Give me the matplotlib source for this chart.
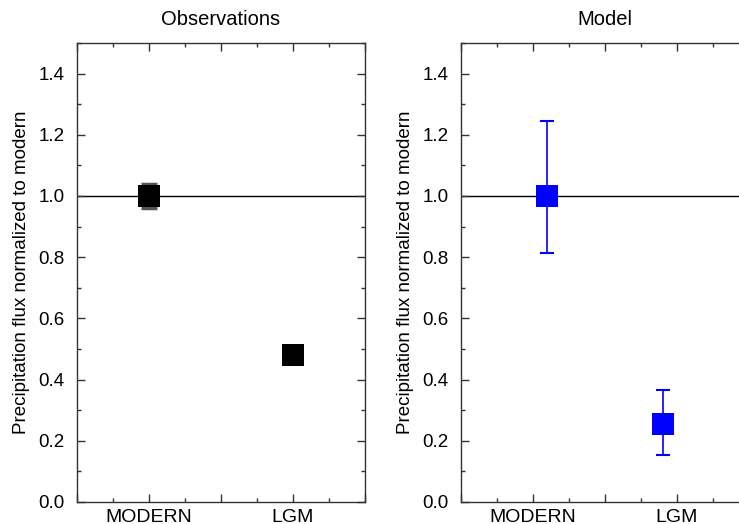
import matplotlib
matplotlib.use("Agg")
import matplotlib.pyplot as plt
from matplotlib.ticker import MultipleLocator, FormatStrFormatter
import numpy as np

plt.rcParams['font.family'] = ['Liberation Sans', 'DejaVu Sans']

categories = ["MODERN", "LGM"]
category_ticks = [1, 3]

# Observations
obs_x = [1.0, 3.0]
obs_val = [1.0, 0.48]
obs_low = [0.96, 0.48]
obs_high = [1.04, 0.48]

# Model
mod_x = [1.2, 2.8]
mod_val = [1.0, 0.255]
mod_low = [0.815, 0.154]
mod_high = [1.245, 0.366]

ylabel = "Precipitation flux normalized to modern"

fig = plt.figure(figsize=(7.39, 5.24), dpi=100)
W, H = 739, 524
ax1 = fig.add_axes([77 / W, 22 / H, 288 / W, 459 / H])
ax2 = fig.add_axes([461 / W, 22 / H, 288 / W, 459 / H])


def style(ax, title):
    ax.set_xlim(0, 4)
    ax.set_ylim(0, 1.5)
    ax.axhline(1.0, color="black", lw=1.0, zorder=1)
    ax.xaxis.set_major_locator(MultipleLocator(1))
    ax.xaxis.set_minor_locator(MultipleLocator(0.5))
    ax.yaxis.set_major_locator(MultipleLocator(0.2))
    ax.yaxis.set_minor_locator(MultipleLocator(0.1))
    ax.set_xticklabels([])
    for x, c in zip(category_ticks, categories):
        ax.text(x, -0.015, c, transform=ax.get_xaxis_transform(), ha="center",
                va="top", fontsize=14)
    ax.yaxis.set_major_formatter(FormatStrFormatter("%.1f"))
    ax.tick_params(which="both", direction="in", top=True, right=True,
                   color="#333333", labelsize=13.5)
    ax.tick_params(which="major", length=6, width=1, pad=9)
    ax.tick_params(which="minor", length=3, width=1)
    for s in ax.spines.values():
        s.set_color("#333333")
        s.set_linewidth(1.0)
    ax.set_ylabel(ylabel, fontsize=13.5, labelpad=6)
    ax.set_title(title, fontsize=14.5, pad=13)


style(ax1, "Observations")
style(ax2, "Model")

obs_val = np.array(obs_val)
obs_err = [obs_val - np.array(obs_low), np.array(obs_high) - obs_val]
ax1.errorbar(obs_x, obs_val, yerr=obs_err, fmt="none",
             ecolor="#555555", elinewidth=1.5,
             capsize=5.5, capthick=2.5, zorder=2)
ax1.plot(obs_x, obs_val, "s", color="black", ms=15.5, mew=0, zorder=3)

mod_val = np.array(mod_val)
mod_err = [mod_val - np.array(mod_low), np.array(mod_high) - mod_val]
ax2.errorbar(mod_x, mod_val, yerr=mod_err, fmt="none",
             ecolor="#0000ff", elinewidth=1.2,
             capsize=4.7, capthick=1.5, zorder=2)
ax2.plot(mod_x, mod_val, "s", color="#0000ff", ms=15.5, mew=0, zorder=3)

fig.savefig("out.png", dpi=100)
